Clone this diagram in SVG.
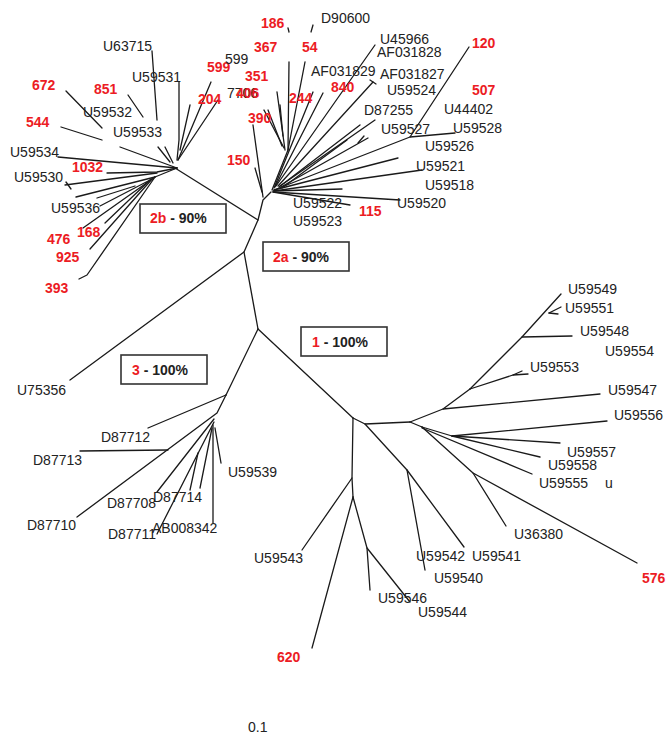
<svg xmlns="http://www.w3.org/2000/svg" width="666" height="735" viewBox="0 0 666 735">
<style>
.e{fill:none;stroke:#1a1a1a;stroke-width:1.3;stroke-linecap:round;stroke-linejoin:round}
.t{font-family:"Liberation Sans",Arial,sans-serif;font-size:14px;fill:#222}
.r{font-family:"Liberation Sans",Arial,sans-serif;font-size:14px;font-weight:bold;fill:#ec1c24}
.bx{fill:#fff;stroke:#333;stroke-width:1.6}
.bt{font-family:"Liberation Sans",Arial,sans-serif;font-size:14px;font-weight:bold;fill:#222}
</style>
<rect width="666" height="735" fill="#fff"/>
<g id="connectors" class="e">
<path d="M258,329 L244,252 L258,220 L263,200 L271,192"/>
<path d="M258,220 L175,168"/>
<path d="M244,252 L70,380"/>
<path d="M258,329 L226,395"/>
<path d="M258,329 L353,418"/>
<!-- 2b -->
<path d="M177,160 L179,140 L179,82"/>
<path d="M180,150 L190,105"/>
<path d="M178,160 L211,82"/>
<path d="M178,160 L218,100"/>
<path d="M152,51 L157,120"/>
<path d="M128,95 L143,117"/>
<path d="M66,91 L102,128"/>
<path d="M61,127 L102,140"/>
<path d="M120,147 L177,168"/>
<path d="M158,147 L170,162"/>
<path d="M165,147 L173,163"/>
<path d="M58,157 L177,168"/>
<path d="M107,173 L157,172 L177,168"/>
<path d="M65,185 L157,173"/>
<path d="M66,182 L71,189"/>
<path d="M155,177 L177,168"/>
<path d="M76,197 L155,177"/>
<path d="M97,198 L135,186"/>
<path d="M100,206 L152,179"/>
<path d="M83,228 L155,177"/>
<path d="M105,223 L150,180"/>
<path d="M90,249 L153,178"/>
<path d="M79,279 L87,275 L155,177"/>
<!-- 2a -->
<path d="M263,197 L253,125"/>
<path d="M262,192 L255,168"/>
<path d="M272,190 L288,150"/>
<path d="M288,150 L289,62"/>
<path d="M288,150 L305,62"/>
<path d="M285,150 L277,92"/>
<path d="M284,148 L264,110"/>
<path d="M282,146 L268,110"/>
<path d="M283,136 L280,105"/>
<path d="M288,28 L289,32"/>
<path d="M313,25 L311,32"/>
<path d="M274,188 L313,92"/>
<path d="M275,187 L323,93"/>
<path d="M276,186 L375,45"/>
<path d="M278,186 L373,82"/>
<path d="M370,80 L376,84"/>
<path d="M280,186 L375,120"/>
<path d="M281,187 L368,138"/>
<path d="M358,143 L364,136"/>
<path d="M282,188 L347,140"/>
<path d="M279,187 L360,125"/>
<path d="M274,190 L410,137 L469,47"/>
<path d="M410,137 L455,133"/>
<path d="M274,190 L398,158"/>
<path d="M274,191 L422,170"/>
<path d="M273,191 L342,189"/>
<path d="M273,192 L350,205"/>
<path d="M273,192 L400,200"/>
<!-- 3 -->
<path d="M226,395 L148,428"/>
<path d="M226,395 L217,413 L77,517"/>
<path d="M168,450 L80,451"/>
<path d="M214,419 L157,492"/>
<path d="M214,422 L157,534"/>
<path d="M198,453 L190,490"/>
<path d="M212,428 L200,488"/>
<path d="M213,425 L213,523"/>
<path d="M215,428 L221,463"/>
<!-- 1 -->
<path d="M353,418 L352,478 L353,497"/>
<path d="M352,478 L302,550"/>
<path d="M353,497 L312,648"/>
<path d="M353,497 L367,548 L370,590"/>
<path d="M367,548 L410,602"/>
<path d="M353,418 L365,424 L410,422"/>
<path d="M365,424 L407,470 L425,570"/>
<path d="M407,470 L464,547"/>
<path d="M410,422 L443,409 L470,389"/>
<path d="M443,409 L600,394"/>
<path d="M470,389 L522,337 L561,294"/>
<path d="M522,337 L572,336"/>
<path d="M549,313 L561,307"/>
<path d="M549,313 L558,314"/>
<path d="M470,389 L513,375 L528,374"/>
<path d="M513,375 L522,371"/>
<path d="M410,422 L422,427"/>
<path d="M422,427 L473,473 L637,563"/>
<path d="M473,473 L506,526"/>
<path d="M422,428 L532,474"/>
<path d="M422,427 L452,436"/>
<path d="M452,436 L540,457"/>
<path d="M452,436 L560,443"/>
<path d="M452,436 L607,421"/>
</g>
<g id="labels-2b">
<g id="n-U63715"><text class="t" x="103" y="51">U63715</text></g>
<g id="n-U59531"><text class="t" x="132" y="82">U59531</text></g>
<g id="n-U59532"><text class="t" x="83" y="117">U59532</text></g>
<g id="n-U59533"><text class="t" x="113" y="137">U59533</text></g>
<g id="n-U59534"><text class="t" x="10" y="157">U59534</text></g>
<g id="n-U59530"><text class="t" x="14" y="182">U59530</text></g>
<g id="n-U59536"><text class="t" x="51" y="213">U59536</text></g>
<g id="n-672"><text class="r" x="32" y="90">672</text></g>
<g id="n-851"><text class="r" x="94" y="94">851</text></g>
<g id="n-544"><text class="r" x="26" y="127">544</text></g>
<g id="n-1032"><text class="r" x="72" y="172">1032</text></g>
<g id="n-476"><text class="r" x="47" y="244">476</text></g>
<g id="n-168"><text class="r" x="77" y="237">168</text></g>
<g id="n-925"><text class="r" x="56" y="262">925</text></g>
<g id="n-393"><text class="r" x="45" y="293">393</text></g>
<g id="n-599r"><text class="r" x="207" y="72">599</text></g>
<g id="n-204"><text class="r" x="198" y="104">204</text></g>
</g>
<g id="labels-2a">
<g id="n-599"><text class="t" x="225" y="64">599</text></g>
<g id="n-7706"><text class="t" x="227" y="98">7706</text></g>
<g id="n-406"><text class="r" x="236" y="98">406</text></g>
<g id="n-186"><text class="r" x="261" y="28">186</text></g>
<g id="n-367"><text class="r" x="254" y="52">367</text></g>
<g id="n-54"><text class="r" x="302" y="52">54</text></g>
<g id="n-351"><text class="r" x="245" y="81">351</text></g>
<g id="n-244"><text class="r" x="289" y="103">244</text></g>
<g id="n-840"><text class="r" x="331" y="92">840</text></g>
<g id="n-390"><text class="r" x="248" y="123">390</text></g>
<g id="n-150"><text class="r" x="227" y="165">150</text></g>
<g id="n-115"><text class="r" x="359" y="216">115</text></g>
<g id="n-120"><text class="r" x="472" y="48">120</text></g>
<g id="n-507"><text class="r" x="472" y="95">507</text></g>
<g id="n-D90600"><text class="t" x="321" y="23">D90600</text></g>
<g id="n-U45966"><text class="t" x="380" y="44">U45966</text></g>
<g id="n-AF031828"><text class="t" x="377" y="57">AF031828</text></g>
<g id="n-AF031829"><text class="t" x="311" y="76">AF031829</text></g>
<g id="n-AF031827"><text class="t" x="380" y="79">AF031827</text></g>
<g id="n-U59524"><text class="t" x="387" y="95">U59524</text></g>
<g id="n-D87255"><text class="t" x="364" y="115">D87255</text></g>
<g id="n-U44402"><text class="t" x="444" y="114">U44402</text></g>
<g id="n-U59527"><text class="t" x="381" y="134">U59527</text></g>
<g id="n-U59528"><text class="t" x="453" y="133">U59528</text></g>
<g id="n-U59526"><text class="t" x="425" y="151">U59526</text></g>
<g id="n-U59521"><text class="t" x="416" y="171">U59521</text></g>
<g id="n-U59518"><text class="t" x="425" y="190">U59518</text></g>
<g id="n-U59520"><text class="t" x="397" y="208">U59520</text></g>
<g id="n-U59522"><text class="t" x="293" y="208">U59522</text></g>
<g id="n-U59523"><text class="t" x="293" y="226">U59523</text></g>
</g>
<g id="labels-3">
<g id="n-U75356"><text class="t" x="17" y="395">U75356</text></g>
<g id="n-D87712"><text class="t" x="101" y="442">D87712</text></g>
<g id="n-D87713"><text class="t" x="33" y="465">D87713</text></g>
<g id="n-U59539"><text class="t" x="228" y="477">U59539</text></g>
<g id="n-D87714"><text class="t" x="153" y="502">D87714</text></g>
<g id="n-D87708"><text class="t" x="107" y="508">D87708</text></g>
<g id="n-D87710"><text class="t" x="27" y="530">D87710</text></g>
<g id="n-AB008342"><text class="t" x="152" y="533">AB008342</text></g>
<g id="n-D87711"><text class="t" x="108" y="539">D87711</text></g>
</g>
<g id="labels-1">
<g id="n-U59549"><text class="t" x="568" y="294">U59549</text></g>
<g id="n-U59551"><text class="t" x="565" y="313">U59551</text></g>
<g id="n-U59548"><text class="t" x="580" y="336">U59548</text></g>
<g id="n-U59554"><text class="t" x="605" y="356">U59554</text></g>
<g id="n-U59553"><text class="t" x="530" y="372">U59553</text></g>
<g id="n-U59547"><text class="t" x="608" y="395">U59547</text></g>
<g id="n-U59556"><text class="t" x="614" y="420">U59556</text></g>
<g id="n-U59557"><text class="t" x="567" y="457">U59557</text></g>
<g id="n-U59558"><text class="t" x="548" y="470">U59558</text></g>
<g id="n-U59555"><text class="t" x="539" y="488">U59555</text></g>
<g id="n-u"><text class="t" x="605" y="488">u</text></g>
<g id="n-U36380"><text class="t" x="514" y="539">U36380</text></g>
<g id="n-U59542"><text class="t" x="416" y="561">U59542</text></g>
<g id="n-U59541"><text class="t" x="472" y="561">U59541</text></g>
<g id="n-U59540"><text class="t" x="434" y="583">U59540</text></g>
<g id="n-U59543"><text class="t" x="254" y="563">U59543</text></g>
<g id="n-U59546"><text class="t" x="378" y="603">U59546</text></g>
<g id="n-U59544"><text class="t" x="418" y="617">U59544</text></g>
<g id="n-620"><text class="r" x="277" y="662">620</text></g>
<g id="n-576"><text class="r" x="642" y="583">576</text></g>
</g>
<g id="box-2b"><rect class="bx" x="140" y="204" width="86" height="29"/><text class="bt" x="150" y="223"><tspan fill="#ec1c24">2b</tspan> - 90%</text></g>
<g id="box-2a"><rect class="bx" x="263" y="242" width="86" height="29"/><text class="bt" x="273" y="262"><tspan fill="#ec1c24">2a</tspan> - 90%</text></g>
<g id="box-1"><rect class="bx" x="301" y="327" width="86" height="29"/><text class="bt" x="312" y="347"><tspan fill="#ec1c24">1</tspan> - 100%</text></g>
<g id="box-3"><rect class="bx" x="121" y="355" width="86" height="29"/><text class="bt" x="132" y="375"><tspan fill="#ec1c24">3</tspan> - 100%</text></g>
<g id="scale"><text class="t" x="248" y="732">0.1</text></g>
</svg>
